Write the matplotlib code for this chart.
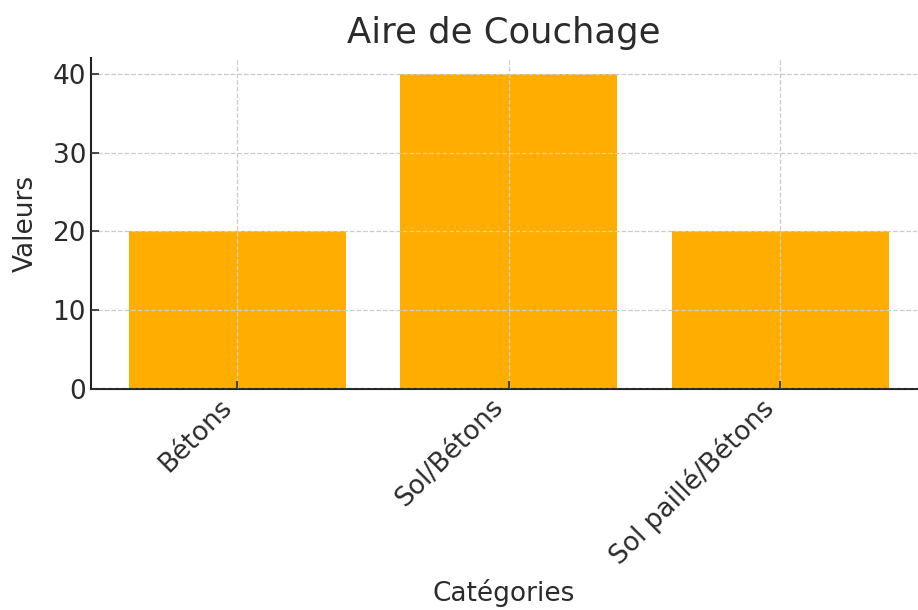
import matplotlib
matplotlib.use("Agg")
import matplotlib.pyplot as plt

categories = ["Bétons", "Sol/Bétons", "Sol paillé/Bétons"]
values = [20, 40, 20]

text_color = "#2b2b2b"
plt.rcParams['font.family'] = ['DejaVu Sans']

fig = plt.figure(figsize=(9.18, 6.10), dpi=100)
ax = fig.add_axes([0.099, 0.362, 0.900, 0.543])

ax.bar(categories, values, width=0.8, color="#ffae00")
ax.set_axisbelow(False)
ax.grid(True, which='major', axis='both', color='#cccccc', linestyle='--', linewidth=0.9)

ax.set_xlim(-0.54, 2.505)
ax.set_ylim(0, 42)
ax.set_yticks([0, 10, 20, 30, 40])

ax.set_title("Aire de Couchage", fontsize=25.5, color=text_color, pad=11)
ax.set_xlabel("Catégories", fontsize=19, color=text_color, labelpad=7)
ax.set_ylabel("Valeurs", fontsize=19, color=text_color, labelpad=10)

ax.tick_params(axis='both', direction='in', labelsize=19, labelcolor=text_color,
               color=text_color, length=6, width=1.2)
plt.setp(ax.get_xticklabels(), rotation=45, ha='right')

for s in ['top', 'right']:
    ax.spines[s].set_visible(False)
for s in ['left', 'bottom']:
    ax.spines[s].set_color("#222222")
    ax.spines[s].set_linewidth(1.5)

fig.savefig("out.png", dpi=100)
plt.close(fig)
